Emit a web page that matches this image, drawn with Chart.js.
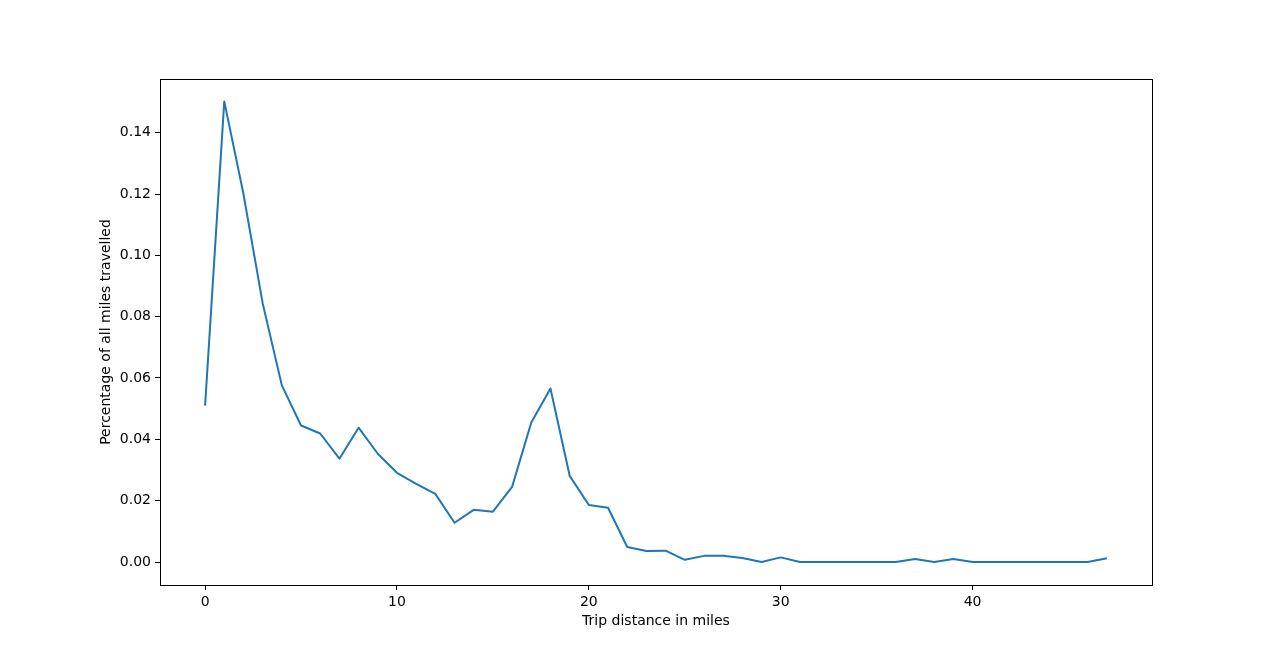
<!DOCTYPE html>
<html>
<head>
<meta charset="utf-8">
<script src="https://cdn.jsdelivr.net/npm/chart.js@4/dist/chart.umd.min.js"></script>
<style>
  html, body { margin: 0; padding: 0; background: #fff; }
  #wrap { width: 1280px; height: 657px; }
</style>
</head>
<body>
<div id="wrap"><canvas id="milesChart"></canvas></div>
<script>
// trip distance (miles) and share of all miles travelled
const miles = [];
for (let m = 0; m <= 47; m++) miles.push(m);
const share = [
  0.0510, 0.1502, 0.1200, 0.0844, 0.0576, 0.0445, 0.0419, 0.0337, 0.0438, 0.0353,
  0.0291, 0.0255, 0.0222, 0.0128, 0.0170, 0.0164, 0.0245, 0.0455, 0.0566, 0.0281,
  0.0186, 0.0177, 0.0049, 0.0036, 0.0037, 0.0007, 0.0020, 0.0020, 0.0013, 0.0000,
  0.0015, 0.0000, 0.0000, 0.0000, 0.0000, 0.0000, 0.0000, 0.0010, 0.0000, 0.0010,
  0.0000, 0.0000, 0.0000, 0.0000, 0.0000, 0.0000, 0.0000, 0.0012
];
const xTicks = [0, 10, 20, 30, 40];
const yTicks = [0, 0.02, 0.04, 0.06, 0.08, 0.10, 0.12, 0.14];

Chart.defaults.font.family = "'DejaVu Sans', sans-serif";
Chart.defaults.font.size = 14;
Chart.defaults.color = '#000';

// kutu çerçevesi (matplotlib gibi dört kenar)
const frameBox = {
  id: 'frameBox',
  afterDraw(chart) {
    const { ctx, chartArea: a } = chart;
    ctx.save();
    ctx.strokeStyle = '#000';
    ctx.lineWidth = 1;
    ctx.strokeRect(Math.round(a.left) + 0.5, Math.round(a.top) + 0.5,
      Math.round(a.right - a.left), Math.round(a.bottom - a.top));
    ctx.restore();
  }
};

const ctx = document.getElementById('milesChart').getContext('2d');
new Chart(ctx, {
  type: 'line',
  data: {
    datasets: [{
      label: 'share',
      data: miles.map((m, i) => ({ x: m, y: share[i] })),
      borderColor: '#1f77b4',
      borderWidth: 2,
      borderJoinStyle: 'round',
      pointRadius: 0,
      tension: 0,
      fill: false
    }]
  },
  plugins: [frameBox],
  options: {
    responsive: true,
    maintainAspectRatio: false,
    animation: false,
    layout: { padding: { left: 94, top: 79, right: 128, bottom: 23 } },
    plugins: { legend: { display: false }, tooltip: { enabled: false } },
    scales: {
      x: {
        type: 'linear',
        min: -2.35,
        max: 49.35,
        afterBuildTicks: (s) => { s.ticks = xTicks.map(v => ({ value: v })); },
        afterFit: (s) => { s.height = 49; },
        grid: { drawOnChartArea: false, drawTicks: true, tickLength: 5, color: '#000' },
        border: { display: false },
        ticks: { padding: 4, color: '#000', callback: (v) => String(v) },
        title: { display: true, text: 'Trip distance in miles', color: '#000', padding: 4 }
      },
      y: {
        min: -0.0075,
        max: 0.1575,
        afterBuildTicks: (s) => { s.ticks = yTicks.map(v => ({ value: v })); },
        afterFit: (s) => { s.width = 66; },
        grid: { drawOnChartArea: false, drawTicks: true, tickLength: 5, color: '#000' },
        border: { display: false },
        ticks: { padding: 4, color: '#000', callback: (v) => v.toFixed(2) },
        title: { display: true, text: 'Percentage of all miles travelled', color: '#000', padding: 4 }
      }
    }
  }
});
</script>
</body>
</html>
